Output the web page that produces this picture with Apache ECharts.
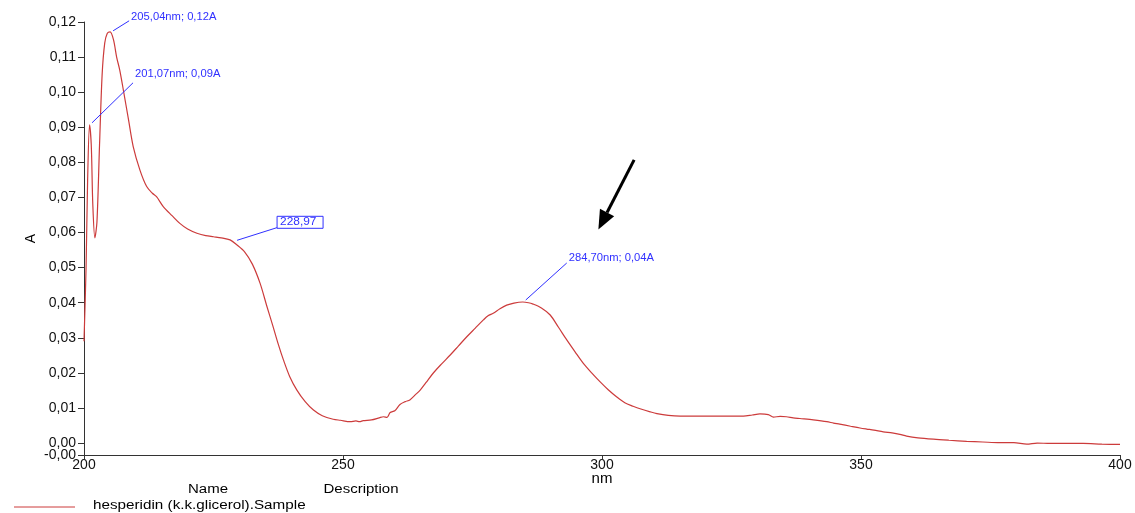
<!DOCTYPE html>
<html><head><meta charset="utf-8">
<script src="https://cdn.jsdelivr.net/npm/echarts@6/dist/echarts.min.js"></script>
<style>html,body{margin:0;padding:0;background:#fff}#c{width:1135px;height:513px}</style>
</head><body><div id="c"></div>
<script>
const wavelengths = [200.0,200.4,200.7,201.07,201.4,201.7,202.1,202.5,203.0,203.5,204.0,204.5,205.04,205.7,206.3,206.9,207.6,208.6,209.5,210.8,212.1,213.2,214.0,215.3,217.0,218.5,220.0,221.8,223.5,225.0,226.5,228.2,229.5,231.0,232.5,234.0,235.3,236.5,237.5,238.5,239.7,241.1,242.7,244.3,246.0,248.1,249.5,251.4,252.5,253.2,253.9,255.5,257.0,257.8,258.5,259.1,260.0,261.0,262.0,262.9,264.0,264.9,266.0,267.4,269.0,270.7,272.3,273.9,275.5,277.1,278.0,279.0,280.3,281.6,283.0,284.7,285.8,286.7,288.3,290.0,291.6,293.2,294.8,296.4,298.0,299.6,301.2,302.8,304.4,306.0,307.5,309.3,310.6,312.8,315.1,318.9,323.0,327.3,329.0,330.5,332.1,333.1,334.4,335.6,336.9,338.2,340.8,343.4,344.7,345.9,348.0,349.8,351.1,352.5,354.3,356.0,357.5,358.8,361.0,364.0,367.0,370.4,373.5,376.8,379.5,382.0,384.0,386.5,389.5,392.9,396.5,400.0];
const absorbance = [0.029,0.050,0.075,0.0907,0.085,0.068,0.0585,0.063,0.085,0.105,0.114,0.1168,0.1172,0.1149,0.110,0.1063,0.1006,0.0921,0.0845,0.0778,0.0731,0.0712,0.0702,0.0674,0.0648,0.0626,0.0610,0.0598,0.0591,0.0588,0.0585,0.0579,0.0565,0.0545,0.0510,0.0455,0.0390,0.0332,0.0282,0.0237,0.0190,0.0151,0.0118,0.0094,0.0078,0.0068,0.0065,0.0061,0.0063,0.0061,0.0064,0.0066,0.0072,0.0075,0.0073,0.0087,0.0092,0.0110,0.0118,0.0123,0.0138,0.0151,0.0172,0.0199,0.0225,0.0251,0.0277,0.0303,0.0327,0.0351,0.0363,0.0370,0.0383,0.0393,0.0399,0.0402,0.0400,0.0396,0.0385,0.0365,0.0330,0.0294,0.0260,0.0227,0.0200,0.0175,0.0152,0.0132,0.0115,0.0105,0.0097,0.0089,0.0084,0.0079,0.0077,0.0077,0.0077,0.0077,0.0080,0.0083,0.0081,0.0074,0.0076,0.0075,0.0072,0.0070,0.0066,0.0061,0.0057,0.0054,0.0048,0.0043,0.0040,0.0037,0.0032,0.0029,0.0025,0.0020,0.0015,0.0011,0.0008,0.0005,0.0003,0.0001,0.0001,-0.0003,0.0000,-0.0001,-0.0001,-0.0001,-0.0003,-0.0004];
const xTicks = [200,250,300,350,400];
const yMin = -0.0034;
const yTicks = [0,0.01,0.02,0.03,0.04,0.05,0.06,0.07,0.08,0.09,0.10,0.11,0.12];
const peakNm = [205.04, 201.07, 228.97, 284.70];
const peakA = [0.1172, 0.0907, 0.0575, 0.0402];
const peakText = ['205,04nm; 0,12A', '201,07nm; 0,09A', '228,97', '284,70nm; 0,04A'];
const arrowFrom = [306.2, 0.0807];
const arrowTo = [299.3, 0.0609];
const seriesName = 'hesperidin (k.k.glicerol).Sample';

const FONT = '"Liberation Sans", Arial, sans-serif';
const RED = '#cc3b3b';
const BLUE = '#3030ff';
const chart = echarts.init(document.getElementById('c'));
const fmt = v => v.toFixed(2).replace('.', ',');
const yLabelStyle = {color: '#111', fontSize: 14, fontFamily: FONT, margin: 8, formatter: fmt, showMinLabel: true, showMaxLabel: true};

chart.setOption({
  animation: false,
  backgroundColor: '#fff',
  grid: {left: 84, right: 15, top: 22, bottom: 58},
  xAxis: {
    type: 'value', min: 200, max: 400, interval: 50,
    name: 'nm', nameLocation: 'middle', nameGap: 16, nameMoveOverlap: false,
    nameTextStyle: {color: '#000', fontSize: 15, fontFamily: FONT},
    axisLine: {onZero: false, lineStyle: {color: '#333', width: 1}},
    axisTick: {show: true, length: 4, lineStyle: {color: '#333'}, customValues: xTicks},
    axisLabel: {color: '#111', fontSize: 14, fontFamily: FONT, margin: 3, customValues: xTicks, showMinLabel: true, showMaxLabel: true},
    splitLine: {show: false}
  },
  yAxis: [{
    type: 'value', min: yMin, max: 0.12,
    name: 'A', nameLocation: 'middle', nameGap: 46, nameRotate: 90,
    nameTextStyle: {color: '#000', fontSize: 14, fontFamily: FONT},
    axisLine: {show: true, onZero: false, lineStyle: {color: '#333', width: 1}},
    axisTick: {show: true, length: 6, lineStyle: {color: '#333'}, customValues: yTicks},
    axisLabel: Object.assign({customValues: yTicks}, yLabelStyle),
    splitLine: {show: false}
  }, {
    type: 'value', min: yMin, max: 0.12, position: 'left',
    axisLine: {show: false, onZero: false},
    axisTick: {show: true, length: 6, lineStyle: {color: '#333'}, customValues: [yMin]},
    axisLabel: Object.assign({customValues: [yMin]}, yLabelStyle),
    splitLine: {show: false}
  }],
  series: [{
    type: 'line', name: seriesName,
    data: wavelengths.map((w, i) => [w, absorbance[i]]),
    smooth: 0.3, showSymbol: false,
    lineStyle: {color: RED, width: 1.2},
    z: 3
  }]
});

// annotation layout (pixel offsets from the data point)
const annOffsets = [
  {s: [3, -1], e: [19, -11], t: [21, -15], box: false},
  {s: [2.5, -2], e: [43.5, -42], t: [45.5, -51], box: false},
  {s: [3, -1], e: [44, -14], t: [46, -19], box: true},
  {s: [3, -2], e: [44, -39], t: [46, -44], box: false}
];
const g = [];
peakNm.forEach((nm, i) => {
  const p = chart.convertToPixel({xAxisIndex: 0, yAxisIndex: 0}, [nm, peakA[i]]);
  const o = annOffsets[i];
  g.push({type: 'line', silent: true, z: 10, shape: {x1: p[0] + o.s[0], y1: p[1] + o.s[1], x2: p[0] + o.e[0], y2: p[1] + o.e[1]}, style: {stroke: BLUE, lineWidth: 1}});
  if (o.box) {
    g.push({type: 'rect', z: 10, shape: {x: p[0] + o.t[0] - 3, y: p[1] + o.t[1] - 6, width: 46, height: 12}, style: {stroke: BLUE, fill: '#fff', lineWidth: 1}});
    g.push({type: 'text', z: 11, x: p[0] + o.t[0], y: p[1] + o.t[1], scaleX: 1.08, style: {text: peakText[i], fill: BLUE, font: '11px ' + FONT, verticalAlign: 'middle', align: 'left'}});
  } else {
    g.push({type: 'text', z: 11, x: p[0] + o.t[0], y: p[1] + o.t[1], scaleX: 1.12, style: {text: peakText[i], fill: BLUE, font: '10px ' + FONT, verticalAlign: 'middle', align: 'left'}});
  }
});
// arrow
const a0 = chart.convertToPixel({xAxisIndex: 0, yAxisIndex: 0}, arrowFrom);
const a1 = chart.convertToPixel({xAxisIndex: 0, yAxisIndex: 0}, arrowTo);
const ang = Math.atan2(a1[1] - a0[1], a1[0] - a0[0]);
const headLen = 19, headW = 8;
const bx = a1[0] - headLen * Math.cos(ang), by = a1[1] - headLen * Math.sin(ang);
g.push({type: 'line', z: 10, shape: {x1: a0[0], y1: a0[1], x2: bx, y2: by}, style: {stroke: '#000', lineWidth: 3}});
g.push({type: 'polygon', z: 10, shape: {points: [
  [a1[0], a1[1]],
  [bx + headW * Math.sin(ang), by - headW * Math.cos(ang)],
  [bx - headW * Math.sin(ang), by + headW * Math.cos(ang)]
]}, style: {fill: '#000'}});
// legend table
g.push({type: 'text', x: 208, y: 490, scaleX: 1.25, style: {text: 'Name', fill: '#000', font: '12px ' + FONT, align: 'center', verticalAlign: 'middle'}});
g.push({type: 'text', x: 361, y: 490, scaleX: 1.25, style: {text: 'Description', fill: '#000', font: '12px ' + FONT, align: 'center', verticalAlign: 'middle'}});
g.push({type: 'line', shape: {x1: 14, y1: 507, x2: 75, y2: 507}, style: {stroke: RED, lineWidth: 1}});
g.push({type: 'text', x: 93, y: 506, scaleX: 1.27, style: {text: seriesName, fill: '#000', font: '12px ' + FONT, align: 'left', verticalAlign: 'middle'}});
chart.setOption({graphic: g});
</script></body></html>
